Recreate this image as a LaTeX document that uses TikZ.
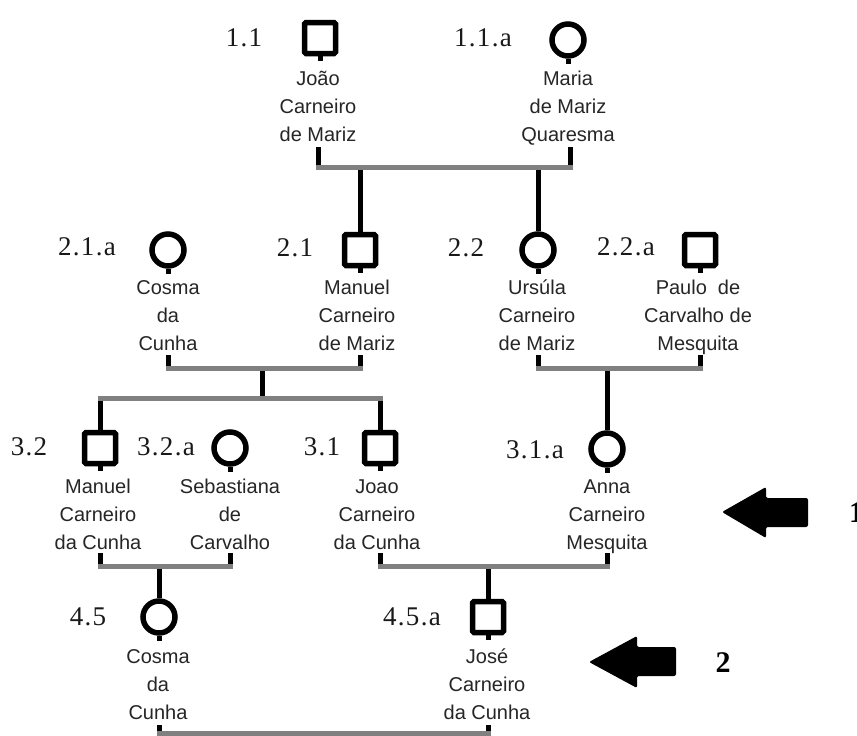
\documentclass[tikz,border=0pt]{standalone}
\usepackage{fontspec}
\setmainfont{Liberation Serif}
\newfontfamily\labfont{Liberation Serif}[LetterSpace=5]
\newfontfamily\namefont{Liberation Sans}
\begin{document}
\begin{tikzpicture}[x=1pt,y=-1pt,
  male/.style={draw, rectangle, line width=5.5pt, minimum size=31pt, inner sep=0pt, rounded corners=1.5pt},
  female/.style={draw, circle, line width=5.5pt, minimum size=32pt, inner sep=0pt},
  idlab/.style={font=\labfont\fontsize{27}{27}\selectfont, inner sep=0pt, text=black!90},
  nm/.style={font=\namefont\fontsize{20}{28}\selectfont, align=center, anchor=base, inner sep=0pt, text=black!85},
  stem/.style={line width=5pt, black},
  bar/.style={line width=5pt, black!50},
  tick/.style={line width=5pt, black},
  bigarrow/.style={fill=black, rounded corners=2pt},
  marknum/.style={font=\bfseries\fontsize{30}{30}\selectfont, inner sep=0pt}]
\clip (0,0) rectangle (857,736);
\fill[white] (0,0) rectangle (857,736);

% ---------- generation 1
\node[male] (p11) at (320,38) {};
\node[idlab] (l11) at (244,38) {1.1};
\node[nm] (n11) at (318,141) {João\\Carneiro\\de Mariz};
\node[female] (p11a) at (568,40) {};
\node[idlab] (l11a) at (483,38) {1.1.a};
\node[nm] (n11a) at (568,141) {Maria\\de Mariz\\Quaresma};

% ---------- generation 2
\node[female] (p21a) at (168,250) {};
\node[idlab] (l21a) at (87,247) {2.1.a};
\node[nm] (n21a) at (168,350) {Cosma\\da\\Cunha};
\node[male] (p21) at (360,250) {};
\node[idlab] (l21) at (295,248) {2.1};
\node[nm] (n21) at (357,350) {Manuel\\Carneiro\\de Mariz};
\node[female] (p22) at (538,250) {};
\node[idlab] (l22) at (466,248) {2.2};
\node[nm] (n22) at (537,350) {Ursúla\\Carneiro\\de Mariz};
\node[male] (p22a) at (700,250) {};
\node[idlab] (l22a) at (626,247) {2.2.a};
\node[nm] (n22a) at (698,350) {Paulo\ \ de\\Carvalho de\\Mesquita};

% ---------- generation 3
\node[male] (p32) at (100,448) {};
\node[idlab] (l32) at (29,447) {3.2};
\node[nm] (n32) at (98,549) {Manuel\\Carneiro\\da Cunha};
\node[female] (p32a) at (230,448) {};
\node[idlab] (l32a) at (166,447) {3.2.a};
\node[nm] (n32a) at (230,549) {Sebastiana\\de\\Carvalho};
\node[male] (p31) at (380,448) {};
\node[idlab] (l31) at (322,447) {3.1};
\node[nm] (n31) at (377,549) {Joao\\Carneiro\\da Cunha};
\node[female] (p31a) at (607,449) {};
\node[idlab] (l31a) at (535,450) {3.1.a};
\node[nm] (n31a) at (607,549) {Anna\\Carneiro\\Mesquita};

% ---------- generation 4
\node[female] (p45) at (159,617) {};
\node[idlab] (l45) at (88,617) {4.5};
\node[nm] (n45) at (158,719) {Cosma\\da\\Cunha};
\node[male] (p45a) at (488,617) {};
\node[idlab] (l45a) at (412,617) {4.5.a};
\node[nm] (n45a) at (487,719) {José\\Carneiro\\da Cunha};

% ---------- ticks under symbols
\foreach \p in {p11,p11a,p21a,p21,p22,p22a,p32,p32a,p31,p31a,p45,p45a}
  \draw[tick] (\p.south) -- ++(0,5);

% ---------- marriage bar coordinates
\coordinate (m1) at (444,167);
\coordinate (m2l) at (262,368);
\coordinate (m2r) at (619,368);
\coordinate (s2) at (262,398);
\coordinate (m3l) at (165,566);
\coordinate (m3r) at (494,566);
\coordinate (m4) at (323,733);

% stems from names down to bars
\draw[stem] (318,147) -- (318,167);
\draw[stem] (570,147) -- (570,167);
\draw[stem] (168,355) -- (168,368);
\draw[stem] (360,355) -- (360,368);
\draw[stem] (538,355) -- (538,368);
\draw[stem] (700,355) -- (700,368);
\draw[stem] (100,553) -- (100,566);
\draw[stem] (230,553) -- (230,566);
\draw[stem] (380,553) -- (380,566);
\draw[stem] (607,553) -- (607,566);
\draw[stem] (159,725) -- (159,733);
\draw[stem] (488,725) -- (488,733);

% child stems
\draw[stem] (p21.north |- m1) -- (p21.north);
\draw[stem] (p22.north |- m1) -- (p22.north);
\draw[stem] (m2l) -- (s2);
\draw[stem] (p32.north |- s2) -- (p32.north);
\draw[stem] (p31.north |- s2) -- (p31.north);
\draw[stem] (p31a.north |- m2r) -- (p31a.north);
\draw[stem] (p45.north |- m3l) -- (p45.north);
\draw[stem] (p45a.north |- m3r) -- (p45a.north);

% gray bars
\draw[bar] (315.5,167) -- (572.5,167);
\draw[bar] (165.5,368) -- (362.5,368);
\draw[bar] (535.5,368) -- (702.5,368);
\draw[bar] (97.5,398) -- (382.5,398);
\draw[bar] (97.5,566) -- (232.5,566);
\draw[bar] (377.5,566) -- (609.5,566);
\draw[bar] (156.5,733) -- (490.5,733);

% ---------- arrows
\fill[bigarrow] (722,512) -- (766,487) -- (766,498) -- (808,498) -- (808,527) -- (766,527) -- (766,538) -- cycle;
\node[marknum, anchor=west] (k1) at (849,513) {1};
\fill[bigarrow] (589,662) -- (637,636) -- (637,647) -- (676,647) -- (676,676) -- (637,676) -- (637,688) -- cycle;
\node[marknum] (k2) at (723,663) {2};
\end{tikzpicture}
\end{document}
